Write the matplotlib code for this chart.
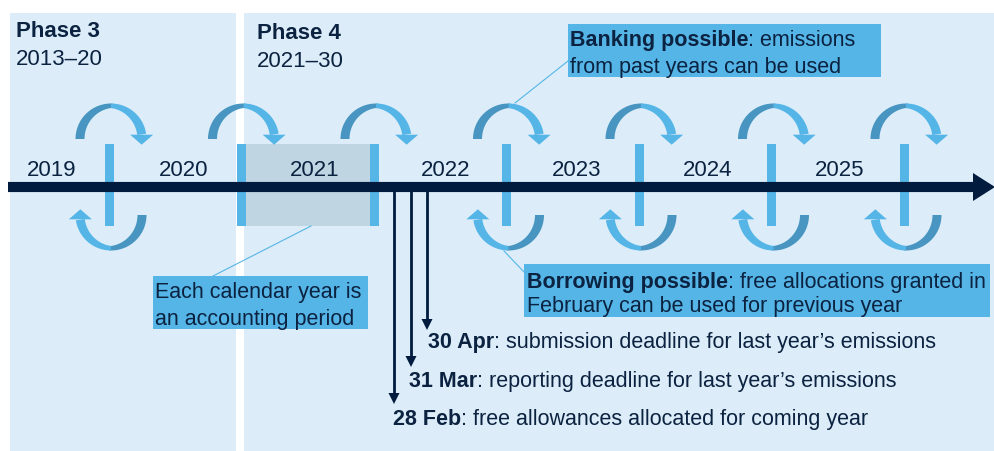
import numpy as np
import matplotlib.pyplot as plt
from matplotlib.patches import Rectangle, Polygon

plt.rcParams['font.family'] = ['Liberation Sans', 'DejaVu Sans']

# chart content
years = ['2019', '2020', '2021', '2022', '2023', '2024', '2025']
phase_names = ['Phase 3', 'Phase 4']
phase_spans = ['2013–20', '2021–30']
banking_bold = 'Banking possible'
banking_rest = [': emissions', 'from past years can be used']
borrowing_bold = 'Borrowing possible'
borrowing_rest = [': free allocations granted in', 'February can be used for previous year']
period_note = ['Each calendar year is', 'an accounting period']
deadline_dates = ['30 Apr', '31 Mar', '28 Feb']
deadline_texts = [': submission deadline for last year’s emissions',
                  ': reporting deadline for last year’s emissions',
                  ': free allowances allocated for coming year']
# which year boundaries get a "borrowing" arc below the line
has_lower_arc = [True, False, False, True, True, True, True]

# colours
BG = '#dcedf9'
NAVY = '#001b3e'
BLUE = '#55b5e7'
DARK = '#4795c0'
GRAY = '#c0d5e2'
TXT = '#0b2240'

W, H = 995, 452
fig = plt.figure(figsize=(W / 100, H / 100), dpi=100)
ax = fig.add_axes([0, 0, 1, 1])
ax.set_xlim(0, W)
ax.set_ylim(H, 0)
ax.axis('off')

# phase panels
ax.add_patch(Rectangle((10, 14), 226, H - 14, color=BG, lw=0, zorder=0))
ax.add_patch(Rectangle((244, 14), W - 244, H - 14, color=BG, lw=0, zorder=0))
phase_x = [16, 257]
phase_base = [37, 39]
for i in range(2):
    ax.text(phase_x[i], phase_base[i], phase_names[i], fontsize=16, weight='bold',
            color=TXT, va='baseline')
    ax.text(phase_x[i], phase_base[i] + 28, phase_spans[i], fontsize=16,
            color=TXT, va='baseline')

line_y = 188
sep0, step = 109, 132.5
seps = [sep0 + step * i for i in range(len(years))]

# accounting period box for 2021
ax.add_patch(Rectangle((seps[1] - 4, 145), seps[2] - seps[1] + 8, 82, color=GRAY, lw=0, zorder=1))

# year boundaries
for s in seps:
    ax.add_patch(Rectangle((s - 4.5, 145), 9, 82, color=BLUE, lw=0, zorder=1.5))


def curved_arrow(s, lower):
    cx, cy, r = s + 2, 140, 35.5

    def tr(x, y):
        if lower:
            return 2 * cx - x, 356 - y
        return x, y

    def band(t0, t1, col):
        th = np.linspace(t0, t1, 60)
        t = 4.5 + 4.5 * np.abs(np.cos(th))
        ox, oy = cx + r * np.cos(th), cy - r * np.sin(th)
        ix, iy = cx + (r - t) * np.cos(th), cy - (r - t) * np.sin(th)
        xs = np.r_[ox, ix[::-1]]
        ys = np.r_[oy, iy[::-1]]
        xs, ys = tr(xs, ys)
        ax.add_patch(Polygon(np.c_[xs, ys], closed=True, color=col, lw=0, zorder=2))

    band(np.pi, np.pi / 2 - 0.05, DARK)
    band(np.pi / 2, 0.15, BLUE)
    hx, hy = cx + (r - 4.5) * np.cos(0.15), cy - r * np.sin(0.15) + 1
    tri_x = np.array([hx - 11.5, hx + 11.5, hx])
    tri_y = np.array([hy, hy, hy + 10])
    tri_x, tri_y = tr(tri_x, tri_y)
    ax.add_patch(Polygon(np.c_[tri_x, tri_y], closed=True, color=BLUE, lw=0, zorder=2))


for s, low in zip(seps, has_lower_arc):
    curved_arrow(s, False)
    if low:
        curved_arrow(s, True)

# timeline
ax.plot([8, 974], [line_y, line_y], color=NAVY, lw=7.3, solid_capstyle='butt', zorder=3)
ax.add_patch(Polygon([[973, line_y - 14], [W, line_y], [973, line_y + 14]],
                     closed=True, color=NAVY, lw=0, zorder=3))

# year labels
for i, y in enumerate(years):
    ax.text(52 + 131.2 * i, 176, y, fontsize=16, color=TXT, ha='center', va='baseline', zorder=4)


def rich(x, y, bold, rest, size=15.5):
    t = ax.text(x, y, bold, fontsize=size, weight='bold', color=TXT, va='baseline', zorder=5)
    ax.annotate(rest, xy=(1, 0), xycoords=t, fontsize=size, color=TXT,
                ha='left', va='bottom', zorder=5)


# banking callout
ax.add_patch(Rectangle((568, 25), 313, 53, color=BLUE, lw=0, zorder=4))
ax.plot([568, 515], [62, 104], color=BLUE, lw=0.8, zorder=4)
rich(570, 46, banking_bold, banking_rest[0])
ax.text(570, 73, banking_rest[1], fontsize=15.5, color=TXT, va='baseline', zorder=5)

# accounting period callout
ax.add_patch(Rectangle((153, 277), 215, 53, color=BLUE, lw=0, zorder=4))
ax.plot([213, 311], [277, 227], color=BLUE, lw=0.8, zorder=4)
ax.text(155, 298, period_note[0], fontsize=15.5, color=TXT, va='baseline', zorder=5)
ax.text(155, 325, period_note[1], fontsize=15.5, color=TXT, va='baseline', zorder=5)

# borrowing callout
ax.add_patch(Rectangle((524, 265), 466, 53, color=BLUE, lw=0, zorder=4))
ax.plot([524, 504], [273, 252], color=BLUE, lw=0.8, zorder=4)
rich(527, 288, borrowing_bold, borrowing_rest[0])
ax.text(527, 312, borrowing_rest[1], fontsize=15.5, color=TXT, va='baseline', zorder=5)

# compliance deadlines
arrow_x = [427, 411, 394]
arrow_tip = [331, 368, 405]
text_x = [428, 409, 393]
text_base = [348, 387, 425]
for k in range(3):
    x = arrow_x[k]
    ax.plot([x, x], [line_y + 4, arrow_tip[k] - 8], color=NAVY, lw=2.0, zorder=3)
    ax.add_patch(Polygon([[x - 5.5, arrow_tip[k] - 11], [x + 5.5, arrow_tip[k] - 11], [x, arrow_tip[k]]],
                         closed=True, color=NAVY, lw=0, zorder=3))
    rich(text_x[k], text_base[k], deadline_dates[k], deadline_texts[k])

fig.savefig('out.png', dpi=100)
